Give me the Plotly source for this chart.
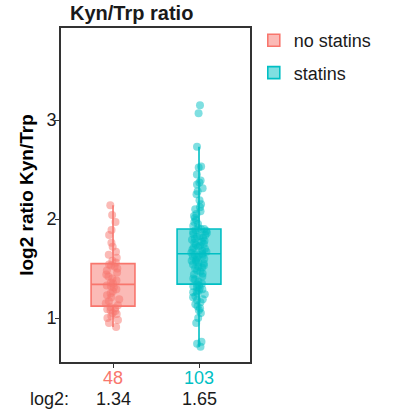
import numpy as np
import plotly.graph_objects as go

# log2 Kyn/Trp ratio per subject
groups = ["no statins", "statins"]
colors = ["#F8766D", "#00BFC4"]

no_statins = [
    0.91, 0.95, 0.98, 1.00, 1.02, 1.04, 1.05, 1.07, 1.08, 1.09, 1.10, 1.11,
    1.13, 1.15, 1.17, 1.19, 1.21, 1.23, 1.25, 1.27, 1.29, 1.31, 1.32, 1.33,
    1.35, 1.36, 1.38, 1.40, 1.42, 1.44, 1.46, 1.48, 1.50, 1.52, 1.53, 1.54,
    1.56, 1.58, 1.61, 1.64, 1.67, 1.72, 1.76, 1.84, 1.89, 1.97, 2.04, 2.14,
]
statins = [
    0.71, 0.74, 0.76, 0.95, 1.00, 1.05, 1.08, 1.10, 1.12, 1.14,
    1.16, 1.18, 1.19, 1.21, 1.22, 1.24, 1.25, 1.26, 1.27, 1.28,
    1.29, 1.30, 1.31, 1.32, 1.33, 1.34,
    1.35, 1.37, 1.39, 1.40, 1.42, 1.44, 1.45, 1.47, 1.48, 1.50,
    1.51, 1.52, 1.53, 1.54, 1.55, 1.56, 1.57, 1.58, 1.59, 1.60,
    1.61, 1.62, 1.63, 1.64, 1.64,
    1.65,
    1.66, 1.67, 1.68, 1.69, 1.70, 1.71, 1.72, 1.73, 1.74, 1.75,
    1.76, 1.77, 1.78, 1.79, 1.80, 1.81, 1.82, 1.83, 1.84, 1.85,
    1.86, 1.87, 1.88, 1.89, 1.90,
    1.90, 1.91, 1.93, 1.95, 1.97, 1.99, 2.01, 2.03, 2.05, 2.08,
    2.10, 2.12, 2.15, 2.19, 2.25, 2.28, 2.31, 2.35, 2.37, 2.39,
    2.45, 2.52, 2.53, 2.73, 3.07, 3.15,
]
series = [no_statins, statins]
y_ticks = [1, 2, 3]

FONT = "Liberation Sans, Arial, sans-serif"
TXT = "#1a1a1a"


def rgba(hex_color, alpha):
    h = hex_color.lstrip("#")
    r, g, b = (int(h[i:i + 2], 16) for i in (0, 2, 4))
    return f"rgba({r},{g},{b},{alpha})"


fig = go.Figure()
for name, vals, col in zip(groups, series, colors):
    fig.add_trace(go.Box(
        x=[name] * len(vals),
        y=vals,
        name=name,
        legendgroup=name,
        boxpoints="all",
        jitter=0.36,
        pointpos=0,
        width=0.51,
        whiskerwidth=0,
        fillcolor=rgba(col, 0.5),
        line=dict(color=col, width=1.6),
        marker=dict(color=col, size=8, opacity=0.5, line=dict(width=0)),
        quartilemethod="linear",
    ))

# group sizes and medians under the axis
for i, (vals, col) in enumerate(zip(series, colors)):
    fig.add_annotation(x=i, y=-0.048, xref="x", yref="paper",
                       text=str(len(vals)), showarrow=False,
                       font=dict(family=FONT, size=18, color=col),
                       xanchor="center", yanchor="middle")
    fig.add_annotation(x=i, y=-0.111, xref="x", yref="paper",
                       text=f"{np.median(vals):.2f}", showarrow=False,
                       font=dict(family=FONT, size=18, color=TXT),
                       xanchor="center", yanchor="middle")
fig.add_annotation(x=-0.06, y=-0.111, xref="paper", yref="paper",
                   text="log2:", showarrow=False,
                   font=dict(family=FONT, size=18, color=TXT),
                   xanchor="center", yanchor="middle")

fig.update_layout(
    width=394, height=417,
    margin=dict(l=61, r=144, t=28, b=55),
    paper_bgcolor="white", plot_bgcolor="white",
    font=dict(family=FONT, color=TXT),
    title=dict(text="<b>Kyn/Trp ratio</b>", x=70 / 394, xanchor="left",
               y=1 - 13 / 417, yanchor="middle",
               font=dict(family=FONT, size=20, color=TXT)),
    showlegend=True,
    legend=dict(x=1.02, y=1.018, xanchor="left", yanchor="top",
                font=dict(family=FONT, size=18, color=TXT),
                bgcolor="rgba(0,0,0,0)", itemwidth=30,
                tracegroupgap=6),
    boxmode="overlay",
)
fig.update_xaxes(
    type="category", range=[-0.605, 1.593],
    showline=True, mirror=True, linecolor="#333333", linewidth=1.6,
    ticks="outside", ticklen=4, tickcolor="#333333", tickwidth=1.2,
    showticklabels=False, showgrid=False, zeroline=False,
)
fig.update_yaxes(
    range=[0.556, 3.93], tickvals=y_ticks,
    showline=True, mirror=True, linecolor="#333333", linewidth=1.6,
    ticks="outside", ticklen=4, tickcolor="#333333", tickwidth=1.2,
    ticklabelstandoff=-5,
    tickfont=dict(family=FONT, size=18, color=TXT),
    showgrid=False, zeroline=False,
    title=dict(text="<b>log2 ratio Kyn/Trp</b>", standoff=8,
               font=dict(family=FONT, size=19, color="#000000")),
)

fig.write_html("out.html")
